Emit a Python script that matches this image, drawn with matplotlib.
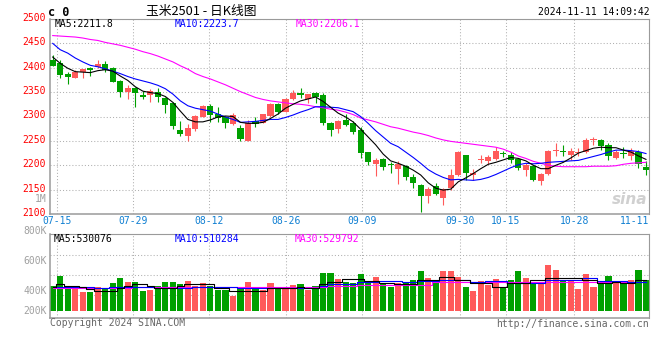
import matplotlib
matplotlib.use("Agg")
import matplotlib.pyplot as plt
from matplotlib.transforms import ScaledTranslation

# daily bars
opens = [2416, 2409, 2388, 2380, 2391, 2399, 2401, 2408, 2399, 2373,
         2351, 2359, 2345, 2344, 2351, 2337, 2327, 2272, 2259, 2275,
         2300, 2321, 2306, 2300, 2285, 2276, 2250, 2291, 2286, 2301,
         2326, 2310, 2335, 2348, 2335, 2348, 2344, 2287, 2274, 2292,
         2287, 2272, 2227, 2203, 2212, 2203, 2192, 2199, 2175, 2160,
         2136, 2157, 2132, 2153, 2180, 2221, 2179, 2210, 2209, 2212,
         2225, 2221, 2212, 2190, 2198, 2168, 2182, 2230, 2228, 2221,
         2225, 2228, 2251, 2252, 2241, 2214, 2225, 2219, 2228, 2197]
closes = [2404, 2386, 2382, 2392, 2397, 2395, 2408, 2395, 2371, 2351,
          2358, 2349, 2341, 2353, 2339, 2323, 2281, 2265, 2276, 2301,
          2321, 2303, 2296, 2287, 2303, 2254, 2287, 2284, 2305, 2326,
          2310, 2335, 2348, 2345, 2346, 2339, 2286, 2272, 2291, 2283,
          2268, 2225, 2207, 2211, 2197, 2200, 2202, 2175, 2164, 2137,
          2151, 2142, 2151, 2180, 2228, 2184, 2185, 2211, 2216, 2230,
          2224, 2211, 2194, 2200, 2170, 2182, 2230, 2232, 2227, 2230,
          2226, 2252, 2252, 2239, 2218, 2228, 2224, 2230, 2203, 2190]
highs = [2426, 2416, 2392, 2395, 2398, 2402, 2416, 2414, 2402, 2375,
         2365, 2361, 2353, 2356, 2359, 2340, 2330, 2291, 2284, 2303,
         2323, 2326, 2319, 2301, 2307, 2283, 2293, 2298, 2306, 2328,
         2328, 2337, 2354, 2358, 2347, 2351, 2349, 2289, 2293, 2305,
         2291, 2279, 2228, 2214, 2214, 2207, 2209, 2200, 2183, 2161,
         2155, 2163, 2153, 2192, 2230, 2221, 2192, 2221, 2221, 2238,
         2230, 2227, 2215, 2204, 2200, 2185, 2231, 2245, 2242, 2235,
         2235, 2255, 2257, 2253, 2245, 2231, 2237, 2235, 2231, 2208]
lows = [2403, 2378, 2367, 2379, 2380, 2384, 2399, 2391, 2371, 2339,
        2336, 2320, 2336, 2330, 2330, 2308, 2274, 2260, 2250, 2271,
        2298, 2289, 2289, 2276, 2283, 2250, 2250, 2279, 2286, 2300,
        2306, 2310, 2334, 2337, 2328, 2327, 2283, 2260, 2267, 2281,
        2264, 2214, 2201, 2177, 2190, 2185, 2161, 2170, 2153, 2105,
        2122, 2139, 2119, 2149, 2177, 2170, 2170, 2204, 2203, 2211,
        2217, 2204, 2190, 2177, 2168, 2159, 2180, 2219, 2219, 2211,
        2218, 2226, 2242, 2231, 2211, 2212, 2214, 2211, 2194, 2180]

ma5 = [2422, 2409, 2399, 2392, 2391, 2390, 2394, 2396, 2393, 2383,
       2374, 2361, 2352, 2349, 2347, 2341, 2329, 2311, 2294, 2289,
       2289, 2293, 2299, 2301, 2300, 2288, 2286, 2286, 2288, 2296,
       2305, 2317, 2325, 2332, 2336, 2340, 2331, 2319, 2307, 2299,
       2289, 2274, 2258, 2242, 2223, 2209, 2204, 2198, 2190, 2180,
       2164, 2153, 2149, 2151, 2166, 2174, 2183, 2193, 2202, 2206,
       2211, 2216, 2214, 2209, 2200, 2193, 2193, 2200, 2206, 2215,
       2225, 2230, 2235, 2237, 2236, 2236, 2231, 2227, 2219, 2212]
ma10 = [2450, 2437, 2430, 2420, 2412, 2405, 2402, 2398, 2393, 2388,
        2382, 2377, 2373, 2369, 2364, 2357, 2346, 2332, 2322, 2317,
        2314, 2311, 2305, 2299, 2294, 2288, 2289, 2290, 2292, 2294,
        2294, 2298, 2303, 2309, 2314, 2320, 2320, 2319, 2318, 2314,
        2310, 2300, 2286, 2271, 2258, 2245, 2238, 2227, 2216, 2204,
        2191, 2182, 2175, 2170, 2171, 2170, 2169, 2171, 2175, 2181,
        2188, 2195, 2201, 2204, 2203, 2204, 2206, 2207, 2208, 2209,
        2210, 2214, 2218, 2222, 2227, 2231, 2231, 2230, 2228, 2224]
ma30 = [2466, 2465, 2464, 2463, 2461, 2458, 2456, 2452, 2449, 2446,
        2442, 2438, 2433, 2429, 2424, 2418, 2412, 2404, 2397, 2388,
        2382, 2377, 2371, 2365, 2358, 2351, 2345, 2339, 2335, 2332,
        2330, 2328, 2326, 2325, 2323, 2320, 2318, 2315, 2313, 2309,
        2304, 2297, 2293, 2289, 2284, 2279, 2276, 2272, 2268, 2265,
        2261, 2256, 2252, 2249, 2247, 2245, 2243, 2241, 2239, 2237,
        2233, 2227, 2219, 2214, 2208, 2204, 2200, 2198, 2197, 2197,
        2197, 2197, 2198, 2198, 2198, 2199, 2202, 2204, 2205, 2206]

# volume in thousands
volumes = [450, 547, 450, 450, 390, 390, 440, 417, 480, 527,
           490, 490, 400, 407, 447, 490, 490, 467, 497, 450,
           480, 447, 407, 407, 350, 424, 490, 424, 407, 480,
           430, 424, 457, 470, 407, 447, 577, 577, 517, 490,
           474, 567, 480, 537, 474, 437, 480, 474, 507, 597,
           527, 497, 597, 597, 540, 437, 397, 497, 457, 517,
           427, 507, 597, 527, 480, 474, 657, 607, 507, 497,
           417, 567, 437, 487, 547, 487, 487, 507, 607, 507]
vma5 = [440, 464, 450, 450, 440, 414, 400, 400, 400, 430,
        450, 467, 467, 450, 424, 424, 424, 450, 464, 464,
        464, 464, 424, 424, 400, 400, 400, 400, 400, 424,
        424, 424, 424, 440, 424, 424, 464, 490, 490, 514,
        514, 514, 497, 497, 480, 480, 467, 467, 467, 507,
        507, 507, 540, 540, 507, 507, 474, 474, 474, 440,
        440, 474, 474, 474, 507, 507, 530, 530, 530, 530,
        530, 507, 507, 474, 474, 490, 474, 474, 507, 507]
vma10 = [440, 440, 440, 440, 440, 440, 424, 424, 434, 434,
         434, 434, 434, 434, 430, 430, 430, 430, 430, 440,
         440, 440, 440, 440, 440, 424, 424, 424, 424, 430,
         430, 430, 430, 430, 430, 430, 447, 464, 464, 464,
         464, 490, 490, 490, 497, 497, 497, 484, 484, 500,
         500, 500, 507, 507, 507, 507, 490, 490, 500, 500,
         500, 480, 480, 480, 480, 480, 507, 507, 507, 507,
         507, 524, 524, 500, 500, 500, 500, 490, 490, 490]
vma30 = [430, 430, 430, 430, 430, 430, 430, 430, 430, 430,
         430, 440, 440, 440, 440, 440, 440, 440, 440, 440,
         440, 440, 440, 440, 440, 440, 440, 440, 440, 440,
         440, 440, 440, 440, 440, 440, 440, 447, 447, 447,
         447, 457, 457, 457, 457, 457, 457, 457, 457, 457,
         457, 490, 490, 490, 490, 490, 484, 484, 484, 484,
         484, 484, 484, 484, 490, 490, 490, 490, 490, 490,
         490, 490, 490, 490, 490, 490, 490, 490, 490, 490]

date_labels = ['07-15', '07-29', '08-12', '08-26', '09-09', '09-30', '10-15', '10-28', '11-11']
date_pos = [0.61, 10.73, 20.85, 31.02, 41.15, 54.28, 60.33, 69.47, 79.44]
price_ticks = [2100, 2150, 2200, 2250, 2300, 2350, 2400, 2450, 2500]

RED = '#ff5a5a'
GREEN = '#00a000'
GRID = '#b0b0b0'
EDGE = '#9a9a9a'
MONO = 'DejaVu Sans Mono'

W, H = 660, 360
def fx(px):
    return px / W
def fy(py):
    return 1 - py / H

fig = plt.figure(figsize=(6.6, 3.6), dpi=100)
ax = fig.add_axes([fx(50), fy(214), fx(649.3) - fx(50), fy(19) - fy(214)])
axv = fig.add_axes([fx(50), fy(318.3), fx(649.3) - fx(50), fy(234.3) - fy(318.3)], sharex=ax)

x = list(range(len(closes)))
cols = [RED if c >= o else GREEN for o, c in zip(opens, closes)]
body_bottom = [min(o, c) for o, c in zip(opens, closes)]
body_h = [max(abs(c - o), 2) for o, c in zip(opens, closes)]

ax.vlines(x, lows, highs, colors=cols, linewidth=0.8, zorder=2)
ax.bar(x, body_h, bottom=body_bottom, width=0.82, color=cols, linewidth=0, zorder=3)
ax.plot(x, ma30, color='#ff00ff', lw=0.8, zorder=4)
ax.plot(x, ma10, color='#0000ff', lw=0.8, zorder=4)
ax.plot(x, ma5, color='black', lw=0.8, zorder=4)

ax.set_xlim(-0.36, 79.44)
ax.set_ylim(2100, 2500)
ax.set_yticks(price_ticks)
ax.set_yticklabels([str(t) for t in price_ticks], family=MONO, fontsize=7, color='red')
ax.set_xticks(date_pos)
ax.set_xticklabels(date_labels, family=MONO, fontsize=7, color='#0f7fd2')
ax.get_xticklabels()[-1].set_horizontalalignment('right')
ax.tick_params(axis='both', length=0)
ax.tick_params(axis='y', pad=2.9)
ax.tick_params(axis='x', pad=1.5)
shift = ScaledTranslation(0, 0.02, fig.dpi_scale_trans)
for lab in ax.get_yticklabels():
    lab.set_transform(lab.get_transform() + shift)
ax.grid(True, linestyle=(0, (1, 2)), color=GRID, lw=0.75, zorder=0)

# volume panel
vol_base = 200
axv.bar(x, [v - vol_base for v in volumes], bottom=vol_base, width=0.82, color=cols, linewidth=0, zorder=2)
axv.plot(x, vma30, color='#ff00ff', lw=0.8, drawstyle='steps-mid', zorder=3)
axv.plot(x, vma10, color='#0000ff', lw=0.8, drawstyle='steps-mid', zorder=3)
axv.plot(x, vma5, color='black', lw=0.8, drawstyle='steps-mid', zorder=3)
axv.set_ylim(124, 964)
axv.set_yticks([357, 557, 757])
axv.tick_params(axis='both', length=0, labelleft=False, labelbottom=False)
axv.grid(True, linestyle=(0, (1, 2)), color=GRID, lw=0.75, zorder=0)

for a in (ax, axv):
    a.set_axisbelow(True)
    for side, s in a.spines.items():
        s.set_color(EDGE)
        s.set_linewidth(1.1 if side in ('left', 'bottom') else 0.8)

# texts around the panels
fig.text(fx(48), fy(12), 'c 0', fontsize=8.5, weight='bold', family=MONO, va='center')
fig.text(fx(201), fy(11), '玉米2501 - 日K线图', fontsize=9.2, family=['Noto Sans CJK SC', 'DejaVu Sans'],
         ha='center', va='center')
fig.text(fx(650), fy(12), '2024-11-11 14:09:42', fontsize=7, family=MONO, ha='right', va='center')

fig.text(fx(55), fy(24), 'MA5:2211.8', fontsize=7, family=MONO, va='center', color='black')
fig.text(fx(175), fy(24), 'MA10:2223.7', fontsize=7, family=MONO, va='center', color='#0000ff')
fig.text(fx(296), fy(24), 'MA30:2206.1', fontsize=7, family=MONO, va='center', color='#ff00ff')

fig.text(fx(54), fy(238.5), 'MA5:530076', fontsize=7, family=MONO, va='center', color='black')
fig.text(fx(175), fy(238.5), 'MA10:510284', fontsize=7, family=MONO, va='center', color='#0000ff')
fig.text(fx(295), fy(238.5), 'MA30:529792', fontsize=7, family=MONO, va='center', color='#ff00ff')

for lab, py in [('1M', 199.5), ('800K', 231), ('600K', 261), ('400K', 291), ('200K', 311)]:
    fig.text(fx(46.5), fy(py), lab, fontsize=7, family=MONO, ha='right', va='center', color='#a0a0a0')

fig.text(fx(50), fy(323.5), 'Copyright 2024 SINA.COM', fontsize=7, family=MONO, va='center', color='#666666')
fig.text(fx(649), fy(324), 'http://finance.sina.com.cn', fontsize=7, family=MONO, ha='right', va='center',
         color='#666666')
fig.text(fx(647), fy(199), 'sina', fontsize=11, weight='bold', style='italic', ha='right', va='center',
         color='#d0d0d0')

fig.savefig('out.png', dpi=100, facecolor='white')
